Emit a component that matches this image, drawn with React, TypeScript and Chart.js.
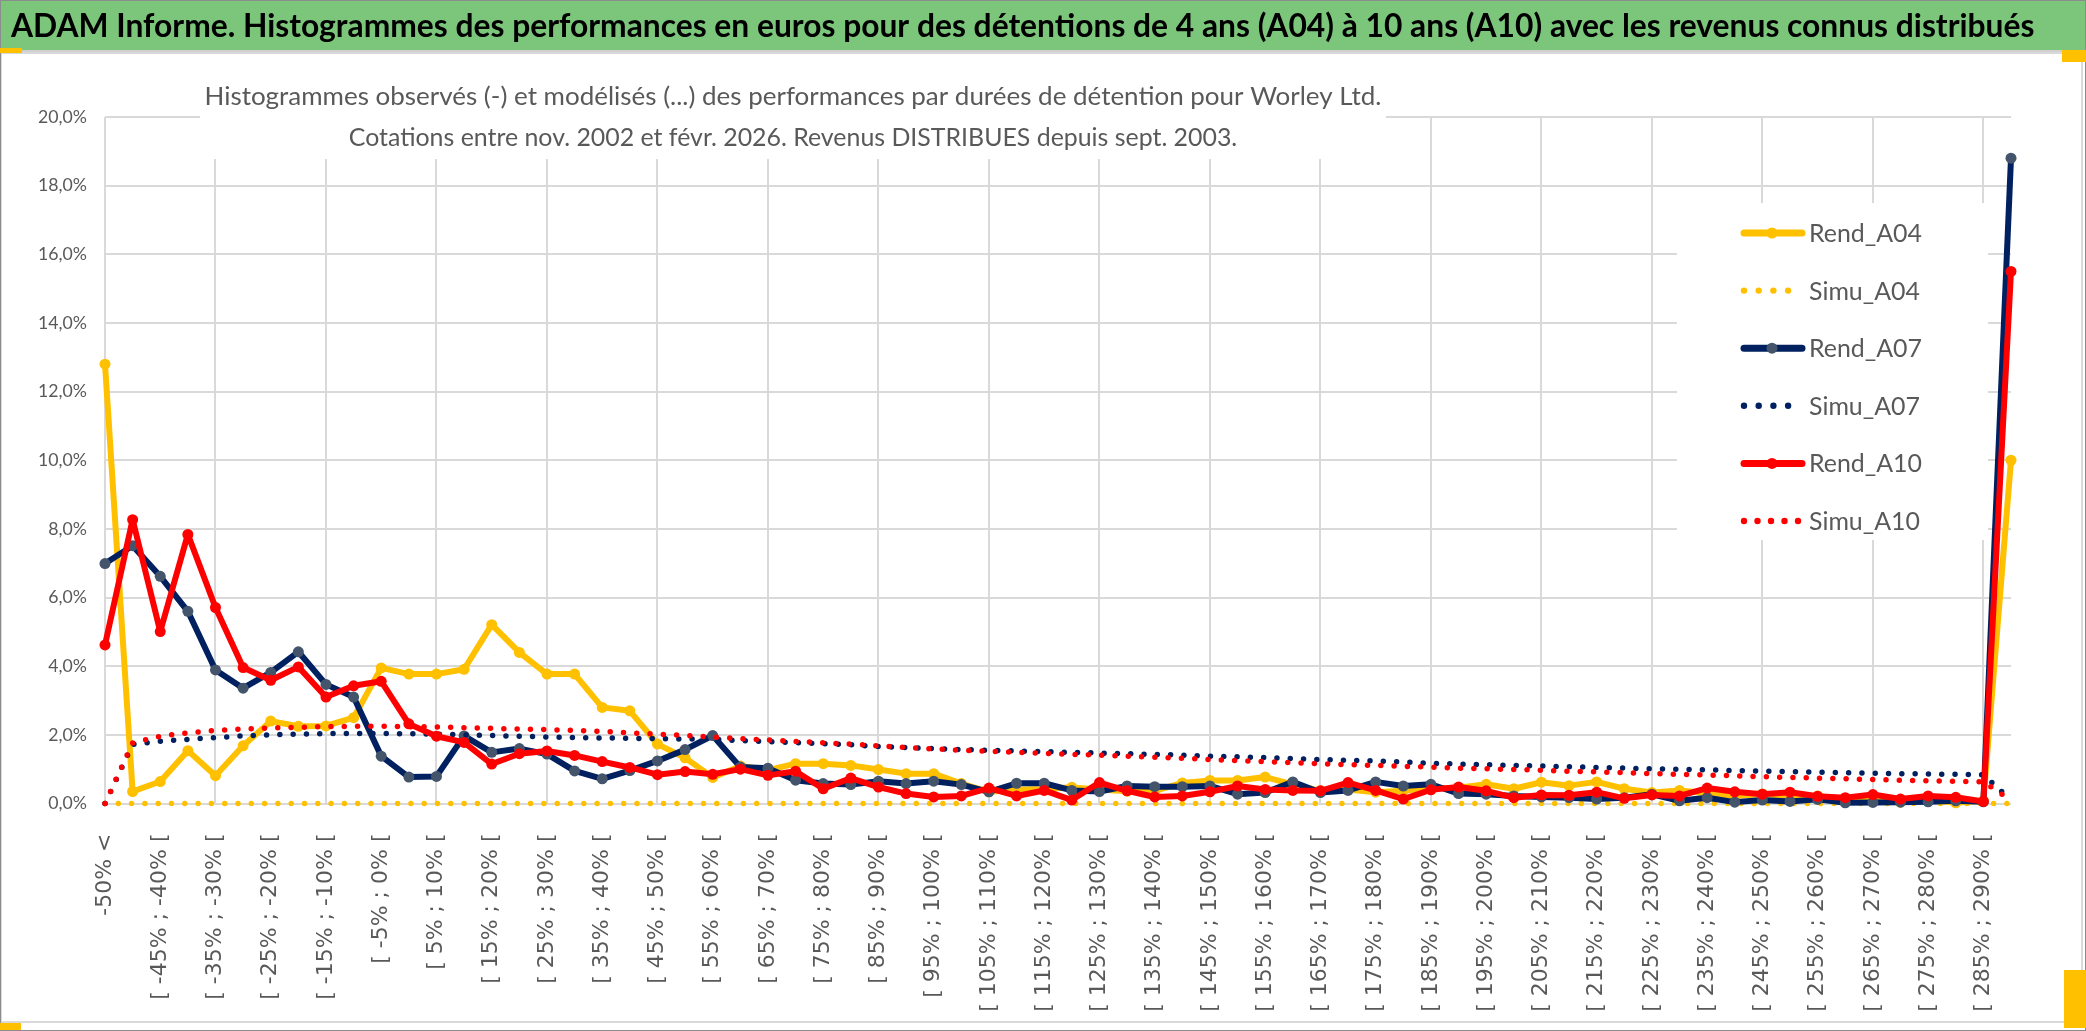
import React, { useEffect, useRef } from 'react';
import { Chart, registerables } from 'chart.js';

Chart.register(...registerables);

const W = 2086;
const H = 1031;

const TITLE = 'ADAM Informe. Histogrammes des performances en euros pour des détentions de 4 ans (A04) à 10 ans (A10) avec les revenus connus distribués';
const SUBTITLE_1 = 'Histogrammes observés (-) et modélisés (...) des performances par durées de détention pour Worley Ltd.';
const SUBTITLE_2 = 'Cotations entre nov. 2002 et févr. 2026. Revenus DISTRIBUES depuis sept. 2003.';

const CATEGORIES = [
  '-50% <',
  '[ -50% ; -45% [', '[ -45% ; -40% [', '[ -40% ; -35% [', '[ -35% ; -30% [', '[ -30% ; -25% [',
  '[ -25% ; -20% [', '[ -20% ; -15% [', '[ -15% ; -10% [', '[ -10% ; -5% [', '[ -5% ; 0% [',
  '[ 0% ; 5% [', '[ 5% ; 10% [', '[ 10% ; 15% [', '[ 15% ; 20% [', '[ 20% ; 25% [',
  '[ 25% ; 30% [', '[ 30% ; 35% [', '[ 35% ; 40% [', '[ 40% ; 45% [', '[ 45% ; 50% [',
  '[ 50% ; 55% [', '[ 55% ; 60% [', '[ 60% ; 65% [', '[ 65% ; 70% [', '[ 70% ; 75% [',
  '[ 75% ; 80% [', '[ 80% ; 85% [', '[ 85% ; 90% [', '[ 90% ; 95% [', '[ 95% ; 100% [',
  '[ 100% ; 105% [', '[ 105% ; 110% [', '[ 110% ; 115% [', '[ 115% ; 120% [', '[ 120% ; 125% [',
  '[ 125% ; 130% [', '[ 130% ; 135% [', '[ 135% ; 140% [', '[ 140% ; 145% [', '[ 145% ; 150% [',
  '[ 150% ; 155% [', '[ 155% ; 160% [', '[ 160% ; 165% [', '[ 165% ; 170% [', '[ 170% ; 175% [',
  '[ 175% ; 180% [', '[ 180% ; 185% [', '[ 185% ; 190% [', '[ 190% ; 195% [', '[ 195% ; 200% [',
  '[ 200% ; 205% [', '[ 205% ; 210% [', '[ 210% ; 215% [', '[ 215% ; 220% [', '[ 220% ; 225% [',
  '[ 225% ; 230% [', '[ 230% ; 235% [', '[ 235% ; 240% [', '[ 240% ; 245% [', '[ 245% ; 250% [',
  '[ 250% ; 255% [', '[ 255% ; 260% [', '[ 260% ; 265% [', '[ 265% ; 270% [', '[ 270% ; 275% [',
  '[ 275% ; 280% [', '[ 280% ; 285% [', '[ 285% ; 290% [',
  '> 290%',
];

const REND_A04 = [
  12.8, 0.35, 0.64, 1.54, 0.81, 1.68, 2.40, 2.25, 2.26, 2.50,
  3.95, 3.77, 3.77, 3.91, 5.21, 4.40, 3.77, 3.77, 2.80, 2.70,
  1.73, 1.33, 0.76, 1.09, 0.97, 1.16, 1.16, 1.11, 0.99, 0.87,
  0.87, 0.58, 0.34, 0.40, 0.42, 0.47, 0.41, 0.36, 0.37, 0.60,
  0.67, 0.67, 0.77, 0.56, 0.37, 0.41, 0.33, 0.37, 0.45, 0.46,
  0.56, 0.43, 0.62, 0.52, 0.63, 0.43, 0.32, 0.38, 0.30, 0.22,
  0.28, 0.20, 0.22, 0.08, 0.15, 0.04, 0.10, 0.02, 0.08, 10.0,
];

const SIMU_A04 = [
  0, 0, 0, 0, 0, 0, 0, 0, 0, 0,
  0, 0, 0, 0, 0, 0, 0, 0, 0, 0,
  0, 0, 0, 0, 0, 0, 0, 0, 0, 0,
  0, 0, 0, 0, 0, 0, 0, 0, 0, 0,
  0, 0, 0, 0, 0, 0, 0, 0, 0, 0,
  0, 0, 0, 0, 0, 0, 0, 0, 0, 0,
  0, 0, 0, 0, 0, 0, 0, 0, 0, 0,
];

const REND_A07 = [
  6.99, 7.51, 6.62, 5.60, 3.89, 3.36, 3.82, 4.42, 3.47, 3.10,
  1.38, 0.77, 0.79, 1.97, 1.49, 1.60, 1.44, 0.95, 0.72, 0.96,
  1.24, 1.57, 1.98, 1.06, 1.03, 0.68, 0.58, 0.55, 0.65, 0.58,
  0.65, 0.55, 0.34, 0.59, 0.59, 0.38, 0.35, 0.51, 0.49, 0.49,
  0.51, 0.27, 0.32, 0.63, 0.32, 0.38, 0.63, 0.51, 0.56, 0.29,
  0.27, 0.22, 0.19, 0.17, 0.13, 0.17, 0.27, 0.08, 0.17, 0.04,
  0.10, 0.06, 0.12, 0.02, 0.03, 0.04, 0.05, 0.08, 0.05, 18.8,
];

const SIMU_A07 = [
  0.00, 1.72, 1.81, 1.87, 1.92, 1.97, 2.00, 2.02, 2.04, 2.04,
  2.04, 2.03, 2.02, 2.00, 1.98, 1.96, 1.94, 1.92, 1.91, 1.90,
  1.89, 1.88, 1.87, 1.83, 1.80, 1.77, 1.74, 1.71, 1.66, 1.63,
  1.60, 1.57, 1.55, 1.53, 1.51, 1.49, 1.47, 1.45, 1.43, 1.41,
  1.38, 1.36, 1.34, 1.31, 1.28, 1.26, 1.24, 1.21, 1.17, 1.15,
  1.13, 1.11, 1.09, 1.07, 1.05, 1.03, 1.01, 1.00, 0.98, 0.96,
  0.94, 0.93, 0.91, 0.90, 0.88, 0.87, 0.86, 0.85, 0.84, 0.10,
];

const REND_A10 = [
  4.62, 8.27, 5.01, 7.84, 5.71, 3.96, 3.59, 3.98, 3.10, 3.43,
  3.56, 2.32, 1.96, 1.78, 1.15, 1.45, 1.53, 1.40, 1.22, 1.05,
  0.84, 0.93, 0.85, 1.00, 0.82, 0.94, 0.43, 0.74, 0.48, 0.29,
  0.19, 0.22, 0.45, 0.22, 0.38, 0.10, 0.61, 0.37, 0.19, 0.22,
  0.34, 0.51, 0.41, 0.38, 0.37, 0.61, 0.38, 0.13, 0.40, 0.48,
  0.37, 0.17, 0.25, 0.24, 0.33, 0.15, 0.25, 0.22, 0.45, 0.34,
  0.27, 0.33, 0.21, 0.17, 0.26, 0.13, 0.22, 0.18, 0.06, 15.5,
];

const SIMU_A10 = [
  0.00, 1.76, 1.96, 2.06, 2.13, 2.17, 2.20, 2.22, 2.24, 2.25,
  2.25, 2.24, 2.23, 2.21, 2.19, 2.17, 2.15, 2.13, 2.10, 2.06,
  2.02, 1.98, 1.94, 1.89, 1.85, 1.81, 1.77, 1.73, 1.68, 1.63,
  1.59, 1.55, 1.52, 1.49, 1.46, 1.43, 1.41, 1.38, 1.35, 1.32,
  1.28, 1.25, 1.22, 1.19, 1.16, 1.13, 1.11, 1.08, 1.06, 1.03,
  1.01, 0.99, 0.97, 0.94, 0.92, 0.90, 0.87, 0.85, 0.83, 0.81,
  0.78, 0.76, 0.74, 0.72, 0.70, 0.68, 0.66, 0.65, 0.63, 0.10,
];

const Y_MIN = 0;
const Y_MAX = 20;
const Y_STEP = 2;

const YELLOW = '#FFC000';
const NAVY = '#002060';
const NAVY_MARKER = '#44546A';
const RED = '#FF0000';
const GREEN = '#7CC67C';
const GRID = '#D9D9D9';
const TEXT = '#595959';
const FONT = "Lato, 'Open Sans', sans-serif";
const TICK_FONT = "'DejaVu Sans', Verdana, sans-serif";

// layout (page pixels)
const PLOT_LEFT = 105;
const PLOT_RIGHT = 2011;
const PLOT_TOP = 117;
const PLOT_BOTTOM = 803.5;
const DOT_GAP = 13.3;

export default function App() {
  const ref = useRef<HTMLCanvasElement>(null);

  useEffect(() => {
    document.body.style.margin = '0';
    const canvas = ref.current!;
    const mctx = canvas.getContext('2d')!;
    const fit = (text: string, weight: string, family: string, target: number) => {
      mctx.font = `${weight} 100px ${family}`;
      return (100 * target) / mctx.measureText(text).width;
    };
    const titleSize = fit(TITLE, 'bold', FONT, 2025);
    const sub1 = fit(SUBTITLE_1, 'normal', FONT, 1177);
    const sub2 = fit(SUBTITLE_2, 'normal', FONT, 889);
    const legSize = fit('Rend_A04', 'normal', FONT, 113);
    const ySize = fit('20,0%', 'normal', FONT, 49);

    const rend = (label: string, data: number[], color: string, marker: string, order: number) => ({
      label,
      data,
      borderColor: color,
      backgroundColor: marker,
      borderWidth: 6,
      borderJoinStyle: 'round' as const,
      borderCapStyle: 'round' as const,
      pointRadius: 5.5,
      pointBackgroundColor: marker,
      pointBorderColor: marker,
      pointBorderWidth: 0,
      tension: 0,
      clip: false as const,
      order,
      dotted: false,
    });
    const simu = (label: string, data: number[], color: string, order: number) => ({
      label,
      data,
      borderColor: color,
      backgroundColor: color,
      borderWidth: 5.5,
      borderDash: [0, DOT_GAP],
      borderCapStyle: 'round' as const,
      borderJoinStyle: 'round' as const,
      pointRadius: 0,
      tension: 0,
      clip: false as const,
      order,
      dotted: true,
    });

    const datasets: any[] = [
      rend('Rend_A04', REND_A04, YELLOW, YELLOW, 6),
      simu('Simu_A04', SIMU_A04, YELLOW, 5),
      rend('Rend_A07', REND_A07, NAVY, NAVY_MARKER, 4),
      simu('Simu_A07', SIMU_A07, NAVY, 3),
      rend('Rend_A10', REND_A10, RED, RED, 2),
      simu('Simu_A10', SIMU_A10, RED, 1),
    ];

    const decor = {
      id: 'decor',
      beforeDraw(c: any) {
        const g = c.ctx as CanvasRenderingContext2D;
        g.save();
        g.fillStyle = '#FFFFFF';
        g.fillRect(0, 0, W, H);
        g.fillStyle = GREEN;
        g.fillRect(0, 0, W, 50);
        g.fillStyle = '#7F7F7F';
        g.fillRect(0, 0, W, 1);
        g.fillStyle = '#D0D0D0';
        g.fillRect(0, 50, W, 3);
        g.strokeStyle = '#D9D9D9';
        g.lineWidth = 2;
        g.strokeRect(1, 53, 2081, 969);
        g.strokeStyle = '#8C8C8C';
        g.lineWidth = 1;
        g.strokeRect(0.5, 0.5, W - 1, H - 1);
        g.fillStyle = YELLOW;
        g.fillRect(0, 48, 22, 5);
        g.fillRect(2062, 50, 24, 12);
        g.fillRect(2064, 970, 22, 58);
        g.fillRect(0, 1023, 21, 7);
        g.fillStyle = '#000000';
        g.font = `bold ${titleSize}px ${FONT}`;
        g.textAlign = 'left';
        g.textBaseline = 'middle';
        g.fillText(TITLE, 11, 27);
        g.restore();
      },
      beforeDatasetsDraw(c: any) {
        const g = c.ctx as CanvasRenderingContext2D;
        g.save();
        g.fillStyle = '#FFFFFF';
        g.fillRect(200, 60, 1186, 99);
        g.fillStyle = TEXT;
        g.textAlign = 'center';
        g.textBaseline = 'middle';
        g.font = `${sub1}px ${FONT}`;
        g.fillText(SUBTITLE_1, 793, 97);
        g.font = `${sub2}px ${FONT}`;
        g.fillText(SUBTITLE_2, 793, 138);
        g.restore();
      },
      afterDatasetsDraw(c: any) {
        const g = c.ctx as CanvasRenderingContext2D;
        g.save();
        g.fillStyle = '#FFFFFF';
        g.fillRect(1677, 203, 311, 337);
        c.data.datasets.forEach((ds: any, k: number) => {
          const y = 233 + k * 57.6;
          if (ds.dotted) {
            const n = k === 5 ? 5 : 4;
            const gap = k === 5 ? 13.5 : 14.7;
            g.fillStyle = ds.borderColor;
            for (let j = 0; j < n; j++) {
              g.beginPath();
              g.arc(1744 + j * gap, y, 3.2, 0, Math.PI * 2);
              g.fill();
            }
          } else {
            g.strokeStyle = ds.borderColor;
            g.lineWidth = 7;
            g.lineCap = 'round';
            g.beginPath();
            g.moveTo(1744, y);
            g.lineTo(1802, y);
            g.stroke();
            g.fillStyle = ds.pointBackgroundColor;
            g.beginPath();
            g.arc(1772, y, 5.5, 0, Math.PI * 2);
            g.fill();
          }
          g.fillStyle = TEXT;
          g.font = `${legSize}px ${FONT}`;
          g.textAlign = 'left';
          g.textBaseline = 'middle';
          g.fillText(ds.label, 1809, y + 1);
        });
        g.restore();
      },
    };

    const chart = new Chart(canvas, {
      type: 'line',
      data: { labels: CATEGORIES, datasets },
      options: {
        animation: false,
        responsive: false,
        events: [],
        layout: {
          autoPadding: false,
          padding: { top: PLOT_TOP, right: W - PLOT_RIGHT, left: 0, bottom: 0 },
        },
        plugins: {
          legend: { display: false },
          title: { display: false },
          tooltip: { enabled: false },
        },
        scales: {
          x: {
            type: 'category',
            offset: false,
            border: { display: false },
            grid: {
              color: (ctx: any) => (ctx.index % 4 === 0 ? GRID : 'rgba(0,0,0,0)'),
              lineWidth: 2,
              drawTicks: false,
            },
            ticks: {
              autoSkip: false,
              maxRotation: 90,
              minRotation: 90,
              padding: 30,
              color: TEXT,
              font: { family: TICK_FONT, size: 22 },
              callback: (_v: any, i: number) => (i % 2 === 0 ? CATEGORIES[i] : ''),
            },
            afterFit: (s: any) => {
              s.height = H - PLOT_BOTTOM;
            },
          },
          y: {
            min: Y_MIN,
            max: Y_MAX,
            border: { display: false },
            grid: { color: GRID, lineWidth: 2, drawTicks: false },
            ticks: {
              stepSize: Y_STEP,
              padding: 18,
              color: TEXT,
              font: { family: FONT, size: ySize },
              callback: (v: any) => `${Number(v).toFixed(1).replace('.', ',')}%`,
            },
            afterFit: (s: any) => {
              s.width = PLOT_LEFT;
            },
          },
        },
      } as any,
      plugins: [decor],
    });

    return () => chart.destroy();
  }, []);

  return (
    <canvas
      ref={ref}
      width={W}
      height={H}
      style={{ display: 'block', width: `${W}px`, height: `${H}px` }}
    />
  );
}
